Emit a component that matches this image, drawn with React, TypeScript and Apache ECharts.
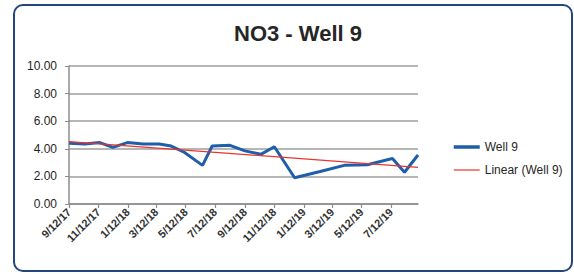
import React, { useEffect, useRef } from "react";
import * as echarts from "echarts";

const tickLabels = [
  "9/12/17", "11/12/17", "1/12/18", "3/12/18", "5/12/18", "7/12/18",
  "9/12/18", "11/12/18", "1/12/19", "3/12/19", "5/12/19", "7/12/19",
];

const sampleDates = [
  "9/12/17", "10/15/17", "11/15/17", "12/12/17", "1/11/18", "2/13/18",
  "3/18/18", "4/12/18", "5/9/18", "6/16/18", "7/6/18", "8/12/18",
  "9/12/18", "10/15/18", "11/12/18", "12/24/18", "2/15/19", "4/6/19",
  "5/24/19", "7/15/19", "8/9/19", "9/6/19",
];

const well9 = [
  4.4, 4.35, 4.45, 4.1, 4.45, 4.35,
  4.35, 4.2, 3.75, 2.8, 4.2, 4.25,
  3.85, 3.6, 4.15, 1.9, 2.35, 2.8,
  2.85, 3.3, 2.3, 3.55,
];

const yTicks = [0, 2, 4, 6, 8, 10];

const DAY = 86400000;
const ORIGIN = Date.UTC(2017, 8, 12);

// date string "M/D/YY" -> days since 9/12/17
function toDay(s: string): number {
  const [m, d, y] = s.split("/").map(Number);
  return Math.round((Date.UTC(2000 + y, m - 1, d) - ORIGIN) / DAY);
}

export default function App() {
  const ref = useRef<HTMLDivElement>(null);

  useEffect(() => {
    document.body.style.margin = "0";
    const chart = echarts.init(ref.current!, undefined, { renderer: "svg" });

    const xs = sampleDates.map(toDay);
    const points = xs.map((x, i) => [x, well9[i]]);
    const tickValues = tickLabels.map(toDay);

    // least-squares linear trendline (Excel "Linear" trendline)
    const n = xs.length;
    const mx = xs.reduce((a, b) => a + b, 0) / n;
    const my = well9.reduce((a, b) => a + b, 0) / n;
    let sxy = 0;
    let sxx = 0;
    for (let i = 0; i < n; i++) {
      sxy += (xs[i] - mx) * (well9[i] - my);
      sxx += (xs[i] - mx) * (xs[i] - mx);
    }
    const slope = sxy / sxx;
    const intercept = my - slope * mx;
    const trend = [
      [xs[0], intercept + slope * xs[0]],
      [xs[n - 1], intercept + slope * xs[n - 1]],
    ];

    chart.setOption({
      animation: false,
      backgroundColor: "#ffffff",
      title: {
        text: "NO3 - Well 9",
        left: 229,
        top: 17,
        textStyle: {
          fontFamily: "Liberation Sans",
          fontWeight: "bold",
          fontSize: 22,
          color: "#262626",
        },
      },
      graphic: [
        {
          type: "rect",
          shape: { x: 14, y: 5, width: 558, height: 266, r: 9 },
          style: { fill: "none", stroke: "#24467f", lineWidth: 2 },
          silent: true,
          z: 100,
        },
      ],
      legend: {
        orient: "vertical",
        left: 447,
        top: 136,
        itemWidth: 26,
        itemHeight: 14,
        itemGap: 11,
        itemStyle: { opacity: 0 },
        textStyle: {
          fontFamily: "Liberation Sans",
          fontSize: 12,
          color: "#262626",
        },
        data: [
          { name: "Well 9", lineStyle: { width: 3.5 } },
          { name: "Linear (Well 9)", lineStyle: { width: 1.2 } },
        ],
      },
      grid: { left: 69, right: 156, top: 66, bottom: 70, containLabel: false },
      xAxis: {
        type: "value",
        min: 0,
        max: xs[n - 1],
        axisLine: { show: true, onZero: false, lineStyle: { color: "#8c8c8c", width: 1.5 } },
        axisTick: {
          show: true,
          customValues: tickValues,
          length: 4,
          lineStyle: { color: "#8c8c8c", width: 1.2 },
        },
        axisLabel: {
          customValues: tickValues,
          rotate: 45,
          margin: 6,
          fontFamily: "Liberation Sans",
          fontWeight: "bold",
          fontSize: 11,
          color: "#333333",
          formatter: (v: number) => {
            const i = tickValues.indexOf(Math.round(v));
            return i >= 0 ? tickLabels[i] : "";
          },
        },
        splitLine: { show: false },
      },
      yAxis: {
        type: "value",
        min: yTicks[0],
        max: yTicks[yTicks.length - 1],
        interval: 2,
        axisLine: { show: true, lineStyle: { color: "#8c8c8c", width: 1.5 } },
        axisTick: { show: true, length: 4, lineStyle: { color: "#8c8c8c" } },
        axisLabel: {
          fontFamily: "Liberation Sans",
          fontSize: 12,
          color: "#1f1f1f",
          margin: 12,
          formatter: (v: number) => v.toFixed(2),
        },
        splitLine: { show: true, lineStyle: { color: "#9e9e9e", width: 1.5 } },
      },
      series: [
        {
          name: "Well 9",
          type: "line",
          data: points,
          symbol: "none",
          color: "#1f5ea8",
          lineStyle: { color: "#1f5ea8", width: 3 },
          z: 3,
        },
        {
          name: "Linear (Well 9)",
          type: "line",
          data: trend,
          symbol: "none",
          color: "#e8352f",
          lineStyle: { color: "#e8352f", width: 1.2 },
          z: 4,
        },
      ],
    });

    return () => chart.dispose();
  }, []);

  return (
    <div
      ref={ref}
      style={{ position: "fixed", left: 0, top: 0, width: 574, height: 274 }}
    />
  );
}
